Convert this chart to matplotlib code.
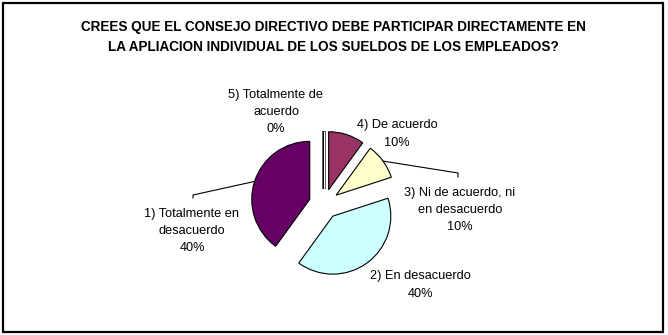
import numpy as np
import matplotlib
matplotlib.use("Agg")
import matplotlib.pyplot as plt
from matplotlib.patches import Rectangle
from matplotlib import font_manager

# Datos del grafico
etiquetas = ["5) Totalmente de\nacuerdo", "4) De acuerdo", "3) Ni de acuerdo, ni\nen desacuerdo",
             "2) En desacuerdo", "1) Totalmente en\ndesacuerdo"]
porcentajes = [0, 10, 10, 40, 40]
colores = ["#FFFFFF", "#993366", "#FFFFCC", "#CCFFFF", "#660066"]
titulo = ["CREES QUE EL CONSEJO DIRECTIVO DEBE PARTICIPAR DIRECTAMENTE EN",
          "LA APLIACION INDIVIDUAL DE LOS SUELDOS DE LOS EMPLEADOS?"]

W, H = 668, 335
fig = plt.figure(figsize=(W / 100, H / 100), dpi=100)
ax = fig.add_axes([0, 0, 1, 1])

def Y(y):
    # coordenada en pixeles (desde arriba) -> coordenada del eje
    return H - y

wedges, _ = ax.pie(porcentajes, colors=colores, startangle=90, counterclock=False,
                   center=(324, Y(204)), radius=58, explode=[15] * len(porcentajes),
                   wedgeprops=dict(edgecolor="black", linewidth=0.8), frame=True)
ax.set_xlim(0, W)
ax.set_ylim(0, H)
ax.axis("off")

# la rebanada de 0% se ve como una linea doble
w0 = wedges[0]
w0.set_linewidth(2.4)
w0.set_joinstyle("round")
a0 = np.deg2rad(w0.theta1)
cx0, cy0 = w0.center
ax.plot([cx0, cx0 + w0.r * np.cos(a0)], [cy0, cy0 + w0.r * np.sin(a0)],
        color="white", lw=0.8, solid_capstyle="butt")

# titulo
nombres = {f.name for f in font_manager.fontManager.ttflist}
fuente_titulo = "Liberation Sans Narrow" if "Liberation Sans Narrow" in nombres else "Liberation Sans"
t1 = ax.text(333, Y(27), titulo[0], ha="center", va="center", fontsize=10,
             fontweight="bold", family=fuente_titulo)
fig.canvas.draw()
fs = 10 * 504 / t1.get_window_extent().width
t1.set_fontsize(fs)
ax.text(333, Y(47), titulo[1], ha="center", va="center", fontsize=fs,
        fontweight="bold", family=fuente_titulo)

# etiquetas
pos_etiquetas = [(276, 112), (397, 134), (460, 210), (420, 285), (192, 231)]
for txt, p, (x, y) in zip(etiquetas, porcentajes, pos_etiquetas):
    ax.text(x, Y(y), f"{txt}\n{p}%", ha="center", va="center", fontsize=9.2,
            family="Liberation Sans", linespacing=1.6)

# lineas guia
guias = {2: [(458, 173), (458, 177)], 4: [(193, 195), (193, 198)]}
for i, pts in guias.items():
    w = wedges[i]
    am = np.deg2rad((w.theta1 + w.theta2) / 2)
    cx, cy = w.center
    xs = [cx + w.r * np.cos(am)] + [p[0] for p in pts]
    ys = [cy + w.r * np.sin(am)] + [Y(p[1]) for p in pts]
    ax.plot(xs, ys, color="black", lw=0.8)

# borde
ax.add_patch(Rectangle((3, 3), 660, 329, fill=False, edgecolor="black", lw=1.6, clip_on=False))

fig.savefig("out.png", dpi=100)
